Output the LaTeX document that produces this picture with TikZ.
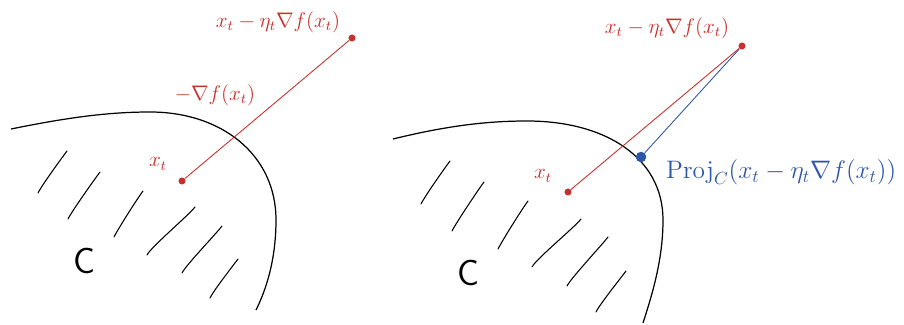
\documentclass[tikz,border=0pt]{standalone}
\usepackage{xcolor}
\usepackage{tikz}
\usetikzlibrary{calc}
\definecolor{stepred}{HTML}{C8302C}
\definecolor{projblue}{HTML}{2E56A6}

\begin{document}
\begin{tikzpicture}[
    x=0.02cm, y=-0.02cm,
    boundary/.style={draw=black, line width=0.7pt},
    hatch/.style={draw=black, line width=0.6pt, line cap=round},
    stepline/.style={draw=stepred, line width=0.5pt},
    projline/.style={draw=projblue, line width=0.5pt},
    dotred/.style={circle, fill=stepred, inner sep=0pt, minimum size=4pt},
    dotblue/.style={circle, fill=projblue, inner sep=0pt, minimum size=6pt},
    redlabel/.style={text=stepred, font=\large},
    bluelabel/.style={text=projblue, font=\Large},
    setlabel/.style={font=\huge\sffamily}
]
\useasboundingbox (0,0) rectangle (904,325);

% Left panel - set boundary
\draw[boundary] (11,129) .. controls (70,117) and (110,112) .. (150,112)
    .. controls (222,112) and (276,155) .. (276,220)
    .. controls (276,260) and (266,290) .. (256,310);

% Left panel - hatching
\foreach \ax/\ay/\bx/\by in {67/151/38/193, 100/172/68/219, 143/191/114/237,
    195/207/147/255, 222/226/182/273, 238/259/210/298}
  \draw[hatch] (\ax,\ay) .. controls +(-6,8) and +(4,-8) .. (\bx,\by);
\node[setlabel] (setA) at (84,261) {C};

% Left panel - gradient step
\node[dotred] (xa) at (182,181) {};
\node[dotred] (ya) at (352,38) {};
\draw[stepline] (xa) -- (ya);
\node[redlabel] (xalab) at (158,164) {$x_t$};
\node[redlabel] (yalab) at (278,22) {$x_t - \eta_t \nabla f(x_t)$};
\node[redlabel] (grad) at (215,95) {$-\nabla f(x_t)$};

% Right panel - set boundary
\draw[boundary] (393,139) .. controls (450,125) and (490,121) .. (527,121)
    .. controls (606,121) and (663,158) .. (663,220)
    .. controls (663,260) and (652,295) .. (643,323);

% Right panel - hatching
\foreach \ax/\ay/\bx/\by in {450/161/421/204, 484/182/452/231, 528/201/498/249,
    581/219/532/267, 608/237/567/286, 626/271/596/312}
  \draw[hatch] (\ax,\ay) .. controls +(-6,8) and +(4,-8) .. (\bx,\by);
\node[setlabel] (setB) at (468,273) {C};

% Right panel - step and projection
\node[dotred] (xb) at (568,192) {};
\node[dotred] (yb) at (742,46) {};
\node[dotblue] (pb) at (641,157) {};
\draw[stepline] (xb) -- (yb);
\draw[projline] (pb) -- (yb);
\node[redlabel] (xblab) at (543,176) {$x_t$};
\node[redlabel] (yblab) at (667,28) {$x_t - \eta_t \nabla f(x_t)$};
\node[bluelabel, anchor=west] (projlab) at (660,172) {$\mathrm{Proj}_C(x_t - \eta_t \nabla f(x_t))$};

\end{tikzpicture}
\end{document}
